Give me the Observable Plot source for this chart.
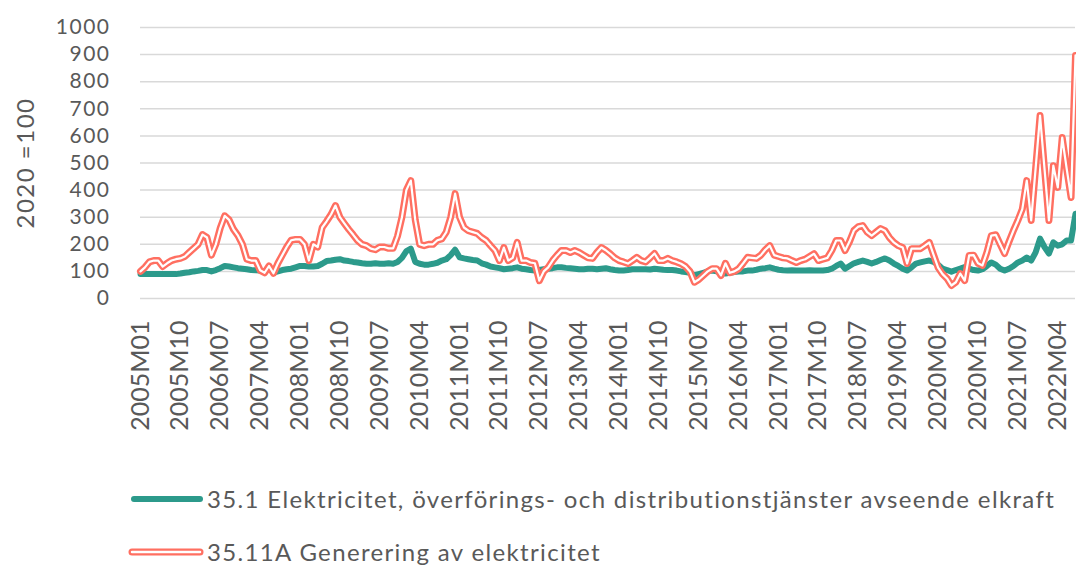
<!DOCTYPE html>
<html><head><meta charset="utf-8">
<script src="https://cdn.jsdelivr.net/npm/d3@7"></script>
<script src="https://cdn.jsdelivr.net/npm/@observablehq/plot@0.6"></script>
<style>
body{margin:0;background:#fff;}
#wrap{position:relative;width:1076px;height:567px;overflow:hidden;font-family:Lato,"Open Sans",sans-serif;color:#595959;}
#chart{position:absolute;left:0;top:0;}
.leg{position:absolute;display:flex;align-items:center;font-size:24px;letter-spacing:1.35px;white-space:nowrap;color:#595959;}
.leg svg{margin-right:3px;}
</style></head><body>
<div id="wrap"><div id="chart"></div>
<div class="leg" id="leg1" style="left:130px;top:484px;"></div>
<div class="leg" id="leg2" style="left:127px;top:537px;"></div>
</div>
<script>
const seriesNames = ["35.1 Elektricitet, överförings- och distributionstjänster avseende elkraft", "35.11A Generering av elektricitet"];
const yTicks = [0,100,200,300,400,500,600,700,800,900,1000];
const tickLabels = ["2005M01","2005M10","2006M07","2007M04","2008M01","2008M10","2009M07","2010M04","2011M01","2011M10","2012M07","2013M04","2014M01","2014M10","2015M07","2016M04","2017M01","2017M10","2018M07","2019M04","2020M01","2020M10","2021M07","2022M04"];
const firstYear = 2005, monthCount = 212;
const months = [];
for (let i = 0; i < monthCount; i++) months.push(`${firstYear + Math.floor(i/12)}M${String(i%12+1).padStart(2,"0")}`);

// 35.1 Elektricitet, överförings- och distributionstjänster
const distribution = [
 90,90,90,90,90,90,90,90,90,92,95,97,
 100,102,105,105,100,105,112,120,118,115,112,110,
 108,105,104,103,100,112,95,100,105,108,110,115,
 120,120,118,118,120,128,138,140,143,145,140,138,
 135,133,130,128,128,130,128,128,130,128,135,150,
 175,184,135,128,125,125,128,132,140,145,160,180,
 152,148,145,142,140,130,125,118,115,112,108,110,
 112,115,110,108,105,103,105,108,110,112,115,115,
 113,112,110,108,108,110,110,108,110,112,108,105,
 103,103,105,108,108,108,108,107,110,108,106,105,
 105,103,100,98,95,85,90,95,100,103,100,96,
 92,95,98,100,100,103,103,106,110,112,115,110,
 106,104,103,104,103,103,103,104,103,103,103,105,
 110,120,129,110,120,130,135,140,135,129,135,142,
 148,140,129,120,110,103,115,129,133,137,140,135,
 125,110,105,99,105,110,116,110,105,103,108,120,
 133,125,110,103,110,120,133,140,151,140,170,221,
 190,166,207,195,200,214,214,313
];
// 35.11A Generering av elektricitet
const generation = [
 100,115,135,140,140,118,130,140,145,148,155,170,
 185,200,236,225,160,200,260,305,290,255,232,200,
 145,140,140,104,95,120,93,130,160,190,215,218,
 218,200,140,200,190,262,285,310,343,300,277,255,
 235,214,200,195,184,180,190,190,185,185,230,300,
 400,435,290,200,195,200,200,215,220,245,300,387,
 300,262,250,245,240,225,214,195,177,140,188,140,
 150,207,140,140,133,130,66,100,115,140,160,177,
 177,170,177,170,160,150,148,170,188,178,165,150,
 140,135,129,140,152,140,135,150,166,140,140,148,
 140,135,128,118,100,60,70,85,100,110,110,85,
 130,95,100,110,130,152,150,148,160,180,195,160,
 155,150,148,140,133,140,145,155,165,140,145,150,
 177,214,214,177,210,251,265,269,245,232,245,258,
 250,225,207,195,188,129,184,184,184,195,207,160,
 114,90,74,48,60,92,66,159,160,130,122,170,
 232,235,200,166,210,251,288,330,435,288,480,675,
 480,288,490,410,594,480,373,897
];

const teal = "#2C9A8B", red = "#FF6F61";
const data = months.map((m, i) => ({month: m, dist: distribution[i], gen: generation[i]}));

const chart = Plot.plot({
  width: 1076, height: 460,
  marginLeft: 140, marginRight: 1, marginTop: 27, marginBottom: 162,
  style: {fontFamily: "Lato, 'Open Sans', sans-serif", color: "#595959", background: "white"},
  x: {type: "point", domain: months, padding: 0},
  y: {domain: [0, 1000]},
  marks: [
    Plot.ruleY(yTicks, {stroke: "#d9d9d9", strokeWidth: 1.5}),
    Plot.axisY({ticks: yTicks, tickFormat: d => String(d), tickSize: 0, tickPadding: 30, fontSize: 21, label: "2020 =100", labelAnchor: "center", labelArrow: "none", labelOffset: 124}),
    Plot.axisX({ticks: tickLabels, tickSize: 0, tickPadding: 22, tickRotate: -90, fontSize: 25, label: null}),
    Plot.lineY(data, {x: "month", y: "dist", stroke: teal, strokeWidth: 6, strokeLinejoin: "round"}),
    Plot.lineY(data, {x: "month", y: "gen", stroke: red, strokeWidth: 7, strokeLinejoin: "round"}),
    Plot.lineY(data, {x: "month", y: "gen", stroke: "white", strokeWidth: 2.2, strokeLinejoin: "round"})
  ]
});
document.getElementById("chart").appendChild(chart);
chart.querySelectorAll('g[aria-label="y-axis tick label"] text').forEach(t => t.style.letterSpacing = "1.5px");
chart.querySelectorAll('g[aria-label="y-axis label"] text').forEach(t => { t.style.fontSize = "24px"; t.style.letterSpacing = "1.5px"; });

document.getElementById("leg1").innerHTML =
  `<svg width="74" height="10"><line x1="4" y1="5" x2="70" y2="5" stroke="${teal}" stroke-width="6" stroke-linecap="round"/></svg><span>${seriesNames[0]}</span>`;
document.getElementById("leg2").innerHTML =
  `<svg width="77" height="12"><line x1="5" y1="6" x2="73" y2="6" stroke="${red}" stroke-width="7" stroke-linecap="round"/><line x1="5" y1="6" x2="73" y2="6" stroke="white" stroke-width="2.5" stroke-linecap="round"/></svg><span>${seriesNames[1]}</span>`;
</script>
</body></html>
